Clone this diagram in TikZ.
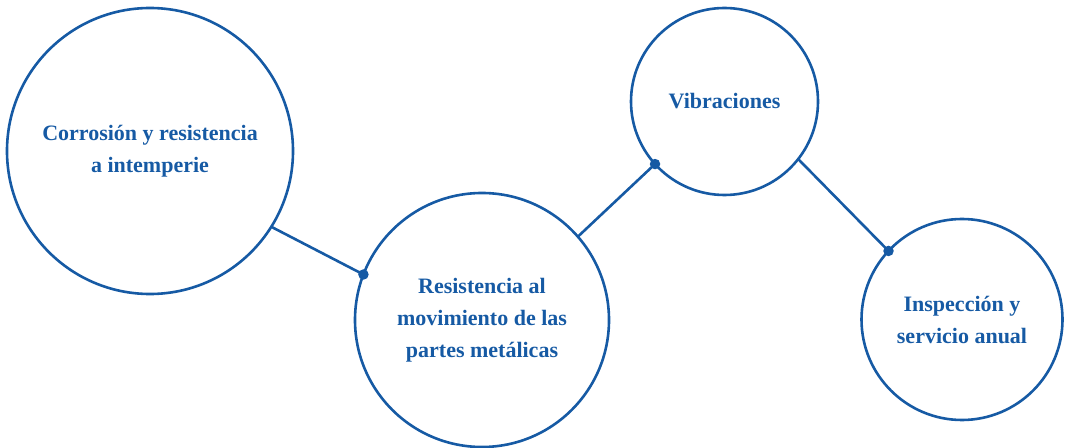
\documentclass[tikz,border=0pt]{standalone}
\usepackage{fontspec}
\setmainfont{Liberation Serif}
\definecolor{cblue}{RGB}{22,90,164}
\begin{document}
\begin{tikzpicture}[x=1pt,y=1pt,
  bubble/.style={circle,draw=cblue,line width=2.6pt,inner sep=0pt,outer sep=0pt,
    align=center,text=cblue,font=\fontsize{22}{32}\selectfont\bfseries},
  link/.style={draw=cblue,line width=2.6pt},
  dot/.style={circle,fill=cblue,inner sep=0pt,minimum size=10.5pt}]
\useasboundingbox (0,0) rectangle (1065,447);
\node[bubble,minimum size=286pt] (c1) at (150,296) {Corrosión y resistencia\\a intemperie};
\node[bubble,minimum size=254pt] (c2) at (482,127) {Resistencia al\\movimiento de las\\partes metálicas};
\node[bubble,minimum size=187pt] (c3) at (724.5,345.5) {Vibraciones};
\node[bubble,minimum size=201pt] (c4) at (962,127.5) {Inspección y\\servicio anual};
\draw[link] (c1.-32) -- (c2.159);
\draw[link] (c2.41) -- (c3.222);
\draw[link] (c3.-38.5) -- (c4.137);
\node[dot] (d1) at (c2.159) {};
\node[dot] (d2) at (c3.222) {};
\node[dot] (d3) at (c4.137) {};
\end{tikzpicture}
\end{document}
